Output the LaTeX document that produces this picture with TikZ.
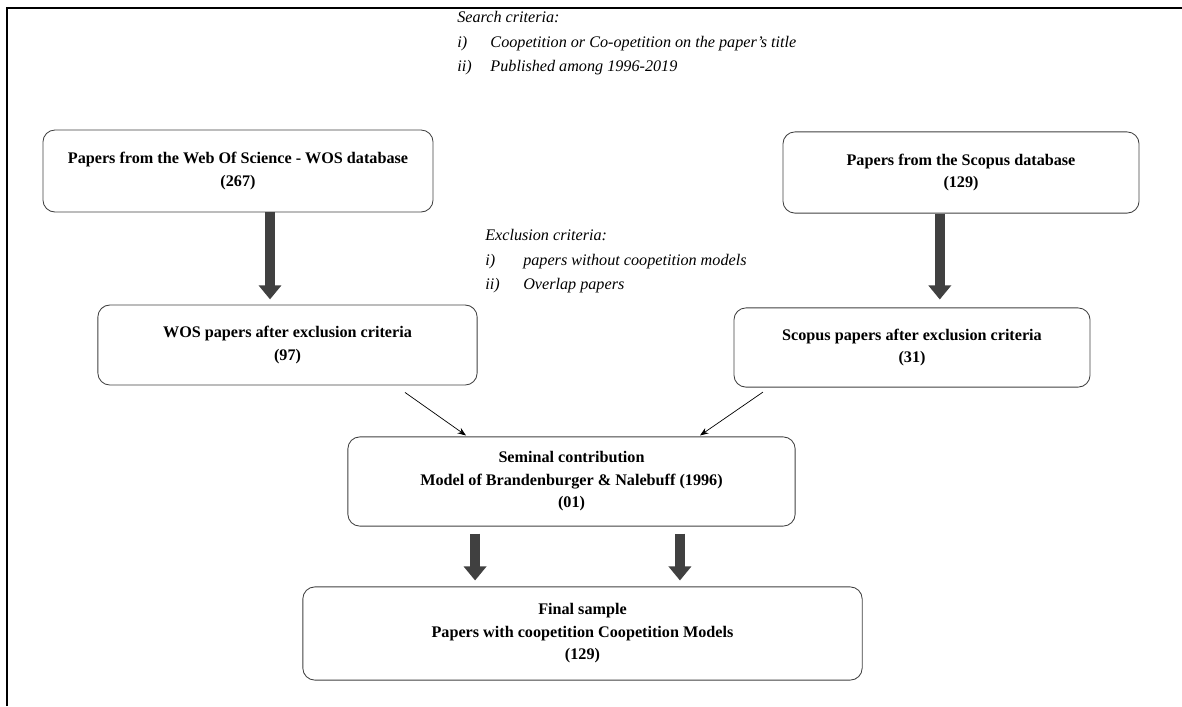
\documentclass[tikz,border=0pt]{standalone}
\usepackage{fontspec}
\setmainfont{Liberation Serif}
\usetikzlibrary{arrows.meta}
\tikzstyle{paperbox} = [rectangle, rounded corners=0.3cm, draw=black!75, line width=0.6pt, align=center, font=\fontsize{11.5}{16}\selectfont\bfseries, inner sep=0pt]
\tikzstyle{criteria} = [anchor=north west, align=left, font=\fontsize{11.5}{17.5}\selectfont\itshape, inner sep=0pt]
\tikzstyle{bigarrow} = [line width=0.25cm, draw=black!75, -{Triangle[width=0.55cm,length=0.35cm]}]
\tikzstyle{arrow} = [line width=0.5pt, ->, >={Stealth[length=6pt,width=4.5pt]}]

\begin{document}
\begin{tikzpicture}[x=0.025cm, y=-0.025cm]
    \useasboundingbox (0,0) rectangle (1182,706);
    \draw [line width=1.4pt] (7,706) -- (7,8) -- (1182,8);

    \node [criteria] (search) at (457,11) {Search criteria:\\
        \makebox[0.83cm][l]{i)}Coopetition or Co-opetition on the paper’s title\\
        \makebox[0.83cm][l]{ii)}Published among 1996-2019};
    \node [criteria] (exclusion) at (485,229) {Exclusion criteria:\\
        \makebox[0.95cm][l]{i)}papers without coopetition models\\
        \makebox[0.95cm][l]{ii)}Overlap papers};

    \node [paperbox, minimum width=9.75cm, minimum height=2.05cm] at (238,171) (wos) {Papers from the Web Of Science - WOS database\\(267)};
    \node [paperbox, minimum width=8.9cm, minimum height=2.03cm] at (961,172.5) (scopus) {Papers from the Scopus database\\(129)};
    \node [paperbox, minimum width=9.48cm, minimum height=2cm] at (287.5,345) (wosx) {WOS papers after exclusion criteria\\(97)};
    \node [paperbox, minimum width=8.9cm, minimum height=1.98cm] at (912,347.5) (scopusx) {Scopus papers after exclusion criteria\\(31)};
    \node [paperbox, minimum width=11.18cm, minimum height=2.23cm] at (571.5,481.5) (seminal) {Seminal contribution\\Model of Brandenburger \& Nalebuff (1996)\\(01)};
    \node [paperbox, minimum width=13.98cm, minimum height=2.33cm] at (582.5,633.5) (final) {Final sample\\Papers with coopetition Coopetition Models\\(129)};

    \draw [bigarrow, shorten >=0.13cm] ([xshift=0.8cm]wos.south) -- ([xshift=0.8cm]wos.south |- wosx.north);
    \draw [bigarrow, shorten >=0.2cm] ([xshift=-0.53cm]scopus.south) -- ([xshift=-0.53cm]scopus.south |- scopusx.north);
    \draw [arrow] ([shift={(117.5,7)}]wosx.south) -- ([shift={(-105.5,-1)}]seminal.north);
    \draw [arrow] ([shift={(-149,4.5)}]scopusx.south) -- ([shift={(128.5,-1)}]seminal.north);
    \draw [bigarrow, shorten <=0.18cm, shorten >=0.15cm] ([xshift=-2.41cm]seminal.south) -- ([xshift=-2.41cm]seminal.south |- final.north);
    \draw [bigarrow, shorten <=0.18cm, shorten >=0.15cm] ([xshift=2.71cm]seminal.south) -- ([xshift=2.71cm]seminal.south |- final.north);
\end{tikzpicture}
\end{document}
